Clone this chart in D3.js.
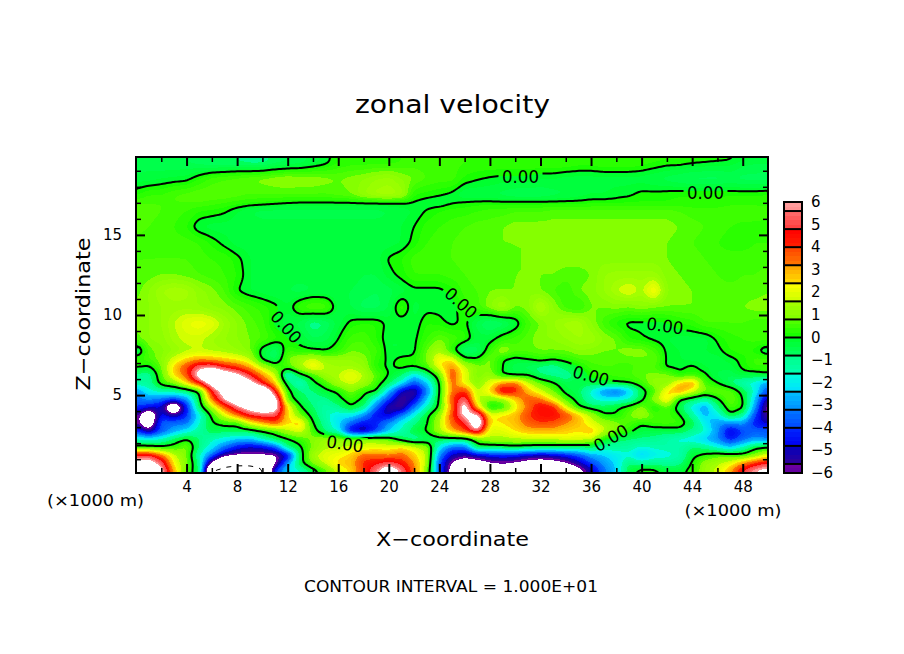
<!DOCTYPE html>
<html><head><meta charset="utf-8">
<script src="https://cdn.jsdelivr.net/npm/d3@7"></script>
<style>
html,body{margin:0;padding:0;background:#fff}
svg{display:block}
text{font-family:"DejaVu Sans",sans-serif;fill:#000}
</style></head><body><svg id="c" width="904" height="654"></svg>
<script>
const xValues = d3.range(0, 51);
const zValues = [0.25,0.75,1.25,1.75,2.25,2.75,3.25,3.75,4.25,4.75,5.25,5.75,6.25,6.75,7.25,7.75,8.5,9.5,10.5,11.5,12.5,13.5,14.5,15.5,16.5,17,17.5,18.5,19.5,19.86];
const velocityRows = [
[7,8,6.5,3,.5,-.6,-10.5,-11,-11,-11,-10.5,-4,-2,-1.8,-.5,.5,1.8,2.5,4,5.8,7.5,5.8,3.5,1,-3.6,-6.8,-8,-8,-7.2,-7.2,-7.5,-8,-8,-8,-7.5,-6.8,-5.2,-3.5,-2.4,-.3,.4,.3,-.2,-.2,.3,1.2,1.8,3,5,6.2,6.8],
[6.5,7,5.5,2.2,1,-1,-6.5,-9,-9.6,-9.6,-9,-6.3,-3,-.2,1,1.8,2.6,2.8,4.2,4.6,5.2,4.5,3.2,1.5,-3.8,-6.2,-7,-6.8,-6.2,-5.9,-6.2,-6.6,-6.8,-6.6,-6.2,-5.2,-4,-3,-2.2,-.8,-1.2,-1,-1.2,-1,.1,1.2,1.5,2,3.2,4.2,5],
[5,5,3.5,1.8,.8,-1.5,-3.5,-5.5,-6,-6,-6,-6.2,-5,-.4,1.5,2,2.2,2.6,3.6,3.5,3.2,3.6,2.6,1.6,-3.2,-5,-5.5,-5,-4.5,-4.4,-4.5,-5,-5.2,-5,-4.5,-3.8,-2.8,-2.4,-2,-1.8,-2.6,-2,-1.8,-1.5,-.2,.2,.6,.5,.3,1,2],
[.3,.2,.1,.3,1,-.8,-2,-3.4,-4.5,-5,-4.8,-3.8,-.8,-.1,.9,1.5,1.5,1.8,1.8,2,2,2.4,2,1.2,-2,-3.5,-3.5,-.3,-.6,-.4,-.2,-.4,-.5,-.6,-.7,-.8,-.6,-1.3,-1.2,-1.3,-1.7,-1.5,-1.4,-1.4,-.8,-1,-1.8,-2.5,-1.5,-.2,.1],
[-1.5,-1.7,-1.5,-.5,.1,-.8,-1.5,-1.9,-2.4,-2.5,-1.5,-.5,-.1,.4,1,1.4,1.4,.9,1.4,1.2,.7,-.5,-1.4,-.8,-.5,-.5,-.6,.5,1.5,1.4,1.6,1.6,1.7,1.8,2,2,1.8,.1,-.6,-.8,-.9,-1,-1.4,-1.8,-2,-2.6,-3.2,-4.4,-3.6,-3,-3.4],
[-4,-5.5,-3.8,-2.8,-2,-1.2,-.5,-.6,-.5,-.5,0,.4,1.5,2,.5,-1,-1.8,-5,-5.6,-4.2,-2.5,-1.5,-.3,.1,1.5,2.8,4,5.5,1.8,2,2.4,2.8,2.8,2.8,2.6,2.4,2.8,1.8,.8,.2,-.4,-.5,-.5,-.4,-1,-1.5,-3,-5,-4,-3.6,-3.6],
[-5.4,-7.5,-3.6,-3.4,-3.4,-1.6,-.1,.3,.3,2,3,3.8,2.5,2.8,0,-1.2,-2.2,-3.6,-4.5,-4.2,-3,-1.8,-.9,-.1,1.5,3.6,4.6,8,2.4,2.4,2.8,3.6,4,3.8,3.2,2.8,2,1.4,1,.6,.1,.5,.6,.5,-.4,-2,-3,-3.2,-3,-4.4,-5],
[-5.2,-8,-4.5,-5.4,-4.2,-2,.2,2,3.5,4.8,5.2,5.3,2.5,.8,-.4,-1.5,-2,-2,-3,-4.6,-5,-3.4,-1.8,-.2,1.2,3.8,6.6,6.4,2.2,2.6,2.8,4,4.5,4.6,4,2.8,1.5,.1,0,.8,1.4,.6,.5,.1,-1.2,-2.6,-2,-.1,-1,-4,-6],
[-4,-4.5,-5,-8.5,-4.4,-.5,1.5,3.6,5.5,7,8,7,2.5,.1,-.8,-1.4,-1,0,-.8,-3.5,-5.5,-5.8,-3.4,-1.5,.2,3.4,7,2.6,-.2,.1,2,3.4,4.8,4.4,2,.1,-.5,-.5,-.1,.4,1,0,.6,-.4,-2,-3,-1,.6,.2,-3,-6.5],
[-3.4,-3,-3.4,-3.8,-3,-.3,3.5,6.2,8,9,9,7,.5,-.6,-1,-1,-.2,.4,-.1,-2,-4,-5.8,-5,-2.4,.1,4,5.5,1.6,.9,1.2,2.6,3.8,3.4,2,.5,-.4,-1.5,-2,-2,-1.6,-.3,1.2,2.8,-.1,-.5,-1.2,-.1,1,.1,-2.5,-5.5],
[-3.2,-1.8,-1.3,-1.2,-.8,0,4.6,7,9,9.5,9,4.5,.3,-.8,-.9,-.2,.1,1,.2,.1,-2.5,-5,-5.7,-3.5,0,3.4,4.2,1.5,2.6,5.2,4.5,2.8,1.8,.8,-.3,-.6,-1.8,-3.2,-3.8,-2.6,-.4,.5,2.4,3.4,2,1,1,.8,-.3,-1.8,-4],
[-1,-1.2,.4,1,2.5,4.5,7,9,8.5,6.8,4.4,2.6,-.6,-1.8,-.2,.5,1.5,1.8,1.4,.5,-.5,-2,-3.8,-2.5,0,3.6,2,1,2,3.2,3.6,1.8,.7,.1,-.5,-.4,-.4,-.2,0,.1,.5,1.2,1,2.6,3.4,.5,0,-.8,-1.6,-2,-3],
[-1,-1.2,.6,2.5,3.8,7,9,7.5,6.5,4.8,3.2,1.8,-2,-.3,.4,1.4,1.6,2.2,1.6,.7,0,-.7,-2.2,-1,.6,4,2,.8,1.2,-.1,-.3,-.1,-.8,-1,-1.2,-.6,.2,.4,.5,.6,.8,.9,1,.1,.3,.1,-.5,-.6,-.2,-.3,-.1],
[.1,-.1,.8,2.6,4,5.6,5.8,4.6,4,3,1.6,.6,.5,1.5,2.5,1.6,1.4,1.4,1.2,.2,-.1,.2,.1,.5,2.2,3.4,1.8,1,.8,0,-.6,-.8,-1,-1.2,-.6,0,.5,.6,.6,.5,.7,.6,-.1,-.1,.1,-.2,-.3,-.3,.1,.4,.4],
[.4,.6,1,1.8,2.5,3,2.8,2.5,2.2,1.6,-.2,-.8,.8,1.4,1.8,1.2,1.2,1.2,1,.3,-.1,.1,.1,.9,2.4,2.2,.2,.1,1,0,-.2,0,.3,.1,.3,.6,.7,.7,.6,.7,.7,.9,-.1,-.2,-.3,-.3,-.3,-.1,.1,.5,.5],
[-.8,.7,.9,1.2,1.5,1.6,1.5,1.4,1.2,.9,-.3,-.9,.4,.2,.1,0,.3,.8,.7,.5,-.2,-.2,-.1,.8,1.5,.2,-1,-.8,.4,1.2,.7,.7,.8,.8,.8,1,.9,.8,.8,1,1,.6,-.1,-.2,-.2,-.2,-.1,.2,.3,.1,-.4],
[.7,1,1.1,1.5,1.7,1.7,1.4,1.2,1,.8,.6,.3,0,-.2,-.6,-.5,0,.5,.6,.2,-.2,-.2,-.1,.4,.8,.6,.3,-.3,-.2,.3,.5,.7,1,1,1.2,1.4,1.4,1,.8,.2,.05,-.1,-.2,-.3,-.3,-.3,.05,.3,.4,.5,.5],
[.8,1,1.2,1.6,2,2.2,2,1.4,1,.7,.5,-.1,-.3,-.5,-1,-.8,-.3,.1,.2,.2,-.1,-.2,-.2,.2,.1,-.1,.1,-.5,-1,-.8,-.3,.5,.8,1.2,1.5,1.6,1,.5,.1,-.1,-.1,-.1,-.05,.2,.3,.6,.6,.6,.6,.5,.5],
[.8,1,1.2,1.3,1.3,1.2,1,.9,.7,.5,.3,.1,-.2,.4,.7,.6,-.3,-.4,-.7,-.7,-.4,.4,-.3,-.1,-.1,-.2,.3,.5,1,1.5,.8,.9,1.8,1,.5,.3,.8,.8,.9,.8,1,.8,.8,.8,.8,.8,.8,.8,.8,.9,.9],
[.7,1,1.4,1.6,1.5,1.1,.9,.6,0,-.2,-.3,-.4,-.4,-.5,-.4,-.4,-.4,-.4,-.5,-.6,-.5,-.3,-.1,-.1,-.1,.1,.5,.6,.8,.8,.8,1,.8,.6,.4,.8,.9,1.2,1.6,1.9,1.5,2.4,1,.9,.8,.7,.7,.7,.7,.7,.8],
[.6,.7,.8,.8,.7,.6,.5,.4,.2,-.2,-.3,-.3,-.3,-.3,-.3,-.3,-.3,-.3,-.4,-.4,-.1,.1,.4,.4,.4,.5,.6,.7,.7,.7,.8,.8,.8,.8,.7,.7,.8,1.2,1.3,1.3,1.3,1.3,.9,.8,.7,.7,.6,.5,.6,.6,.7],
[.6,.6,.6,.6,.6,.5,.4,.35,.1,-.2,-.3,-.3,-.3,-.3,-.3,-.3,-.3,-.3,-.3,-.3,.05,.2,.5,.6,.6,.6,.7,.7,.7,.7,.8,.8,.8,.9,.9,.9,.9,.9,.9,.9,.9,.9,.8,.7,.7,.6,.5,.5,.5,.5,.5],
[.5,.5,.5,.5,.5,.4,.15,-.1,-.3,-.3,-.3,-.3,-.3,-.3,-.3,-.3,-.3,-.3,-.3,-.3,-.3,-.2,.1,.4,.5,.6,.7,.7,.8,.8,.8,.8,.8,.9,.9,.9,.9,.9,.9,.9,.9,.9,.8,.7,.6,.5,.4,.3,.3,.4,.4],
[.7,.6,.5,.4,.2,-.2,-.3,-.3,-.3,-.3,-.3,-.3,-.3,-.3,-.3,-.3,-.3,-.3,-.3,-.3,-.3,-.2,0,.3,.4,.5,.6,.7,.7,.8,.9,.9,.9,.9,.9,.9,.9,.9,.9,.9,.9,.9,.9,.8,.7,.6,.5,.4,.3,.3,.3],
[.8,.7,.6,.5,.4,.2,.15,.05,-.2,-.4,-.5,-.5,-.5,-.5,-.5,-.5,-.5,-.5,-.5,-.5,-.4,-.3,-.2,.03,.2,.3,.3,.4,.5,.5,.6,.6,.6,.7,.7,.7,.7,.7,.7,.7,.7,.7,.7,.6,.5,.5,.5,.6,.6,.6,.5],
[.6,.6,.6,.6,.6,.6,.5,.4,.3,.2,.15,.08,0,-.05,-.05,-.05,-.05,-.05,-.05,-.05,-.05,-.05,-.05,-.15,-.2,-.05,.05,.1,.1,.1,.1,.1,.1,.1,.1,.1,.15,.15,.15,.2,.2,.2,.2,.25,.25,.25,.25,.3,.3,.3,.3],
[.15,.4,.4,.6,.7,.8,.8,.8,.7,.6,.6,.6,.6,.6,.6,.6,.7,.8,1.2,1.5,1.6,1.4,.2,.1,.02,-.1,-.4,-.4,-.4,-.5,-.6,-.6,-.6,-.5,-.4,-.3,-.2,-.2,-.1,-.05,.1,.1,.15,.2,.2,.2,.2,.2,.2,.2,.25],
[-.3,-.3,-.2,-.15,-.1,.2,.5,.6,.7,.8,.9,1,1.1,1,1,.9,.8,.9,1,1.2,1.3,1,.8,.6,.5,.5,.15,.03,-.05,-.1,-.1,-.1,-.2,-.2,-.3,-.3,-.3,-.3,-.3,-.3,-.3,-.4,-.5,-.6,-.7,-.7,-.7,-.6,-.7,-.7,-.7],
[-.6,-.5,-.6,-.6,-.6,-.7,-.8,-.8,-.8,-.9,-.9,-.7,-.6,-.5,-.3,-.1,.2,.3,.3,.3,.3,.4,.5,.5,.5,.5,.4,.4,.4,.4,.4,.4,.4,.4,.4,.3,.3,.4,.4,.4,.3,.2,.1,.1,0,-.05,-.1,-.1,-.3,-.4,-.4],
[-.6,-.5,-.6,-.6,-.6,-.7,-.8,-.8,-.8,-.9,-.9,-.7,-.6,-.5,-.3,-.1,.2,.3,.3,.3,.3,.4,.5,.5,.5,.5,.4,.4,.4,.4,.4,.4,.4,.4,.4,.3,.3,.4,.4,.4,.3,.3,.3,.3,.3,.25,.2,.1,0,-.1,-.2]
];
const xMajorTicks = [4,8,12,16,20,24,28,32,36,40,44,48];
const xMinorTicks = d3.range(2,50,4);
const zMajorTicks = [5,10,15];
const zMinorTicks = d3.range(1,20).filter(d=>d%5);
const legendLabels = [6,5,4,3,2,1,0,-1,-2,-3,-4,-5,-6];
const legendCellEdges = [-6,-5.6,-4.8,-4,-3.2,-2.4,-1.6,-.8,0,.8,1.6,2.4,3.2,4,4.8,5.6,6];
const legendCellColors = [
["#6000a0","#7000a0"],["#300098","#0000c0"],["#0000f0","#0028ff"],["#0048ff","#0078ff"],
["#0090ff","#00c0ff"],["#00e0ff","#00ffdc"],["#00ffb0","#00ff88"],["#00ff60","#00ff28"],
["#10ff00","#58ff00"],["#80ff00","#a8ff00"],["#ccff00","#ffff00"],["#ffdd00","#ffa000"],
["#ff7700","#ff4400"],["#ff2000","#ff0000"],["#ff3c3c","#ff6e6e"],["#ff8f8f","#ffa0a0"]];
const contourLabels = [
 {cx:520.5,cy:177,rot:0},{cx:705.5,cy:193,rot:0},{cx:461,cy:303,rot:42},{cx:286,cy:327,rot:48},
 {cx:345,cy:444,rot:8},{cx:591,cy:376,rot:15},{cx:611,cy:438,rot:-30},{cx:665,cy:326,rot:8}];

const L=136,R=768,T=157,B=473;
const svg=d3.select("#c");
const x=d3.scaleLinear().domain([0,50]).range([L,R]);
const z=d3.scaleLinear().domain([0.14,19.86]).range([B,T]);

function bandColor(v){
  let i=d3.bisectRight(legendCellEdges,v)-1; i=Math.max(0,Math.min(legendCellColors.length-1,i));
  const t=(v-legendCellEdges[i])/(legendCellEdges[i+1]-legendCellEdges[i]);
  return d3.interpolateRgb(legendCellColors[i][0],legendCellColors[i][1])(t);
}
const nx=316,ny=158,field=new Float64Array(nx*ny);
function sample(xv,zv){
  const cx=Math.max(0,Math.min(49.9999,xv)); const i=Math.floor(cx), fx=cx-i;
  const cz=Math.max(zValues[0],Math.min(zValues[zValues.length-1]-1e-6,zv));
  const j=d3.bisectRight(zValues,cz)-1, fz=(cz-zValues[j])/(zValues[j+1]-zValues[j]);
  const a=velocityRows[j],b=velocityRows[j+1];
  return (a[i]*(1-fx)+a[i+1]*fx)*(1-fz)+(b[i]*(1-fx)+b[i+1]*fx)*fz;
}
for(let r=0;r<ny;r++)for(let c=0;c<nx;c++){
  field[r*nx+c]=sample(x.invert(L+(c+.5)/nx*(R-L)),z.invert(T+(r+.5)/ny*(B-T)));
}
function blur(a,rad){
  const o=new Float64Array(a.length);
  for(let r=0;r<ny;r++)for(let c=0;c<nx;c++){let s=0,n=0;for(let k=-rad;k<=rad;k++){const q=c+k;if(q>=0&&q<nx){s+=a[r*nx+q];n++}}o[r*nx+c]=s/n}
  const p=new Float64Array(a.length);
  for(let c=0;c<nx;c++)for(let r=0;r<ny;r++){let s=0,n=0;for(let k=-rad;k<=rad;k++){const q=r+k;if(q>=0&&q<ny){s+=o[q*nx+c];n++}}p[r*nx+c]=s/n}
  return p;
}
const smooth=blur(blur(field,1),1);
const px=d3.scaleLinear().domain([0,nx]).range([L,R]), py=d3.scaleLinear().domain([0,ny]).range([T,B]);
const path=d3.geoPath(d3.geoTransform({point(a,b){this.stream.point(px(a),py(b))}}));
const thresholds=d3.range(0,61).map(i=>+(-6+i*.2).toFixed(1));
const contours=d3.contours().size([nx,ny]);

const defs=svg.append("defs");
defs.append("clipPath").attr("id","pc").append("rect").attr("x",L).attr("y",T).attr("width",R-L).attr("height",B-T);
const mask=defs.append("mask").attr("id","lm").attr("maskUnits","userSpaceOnUse").attr("x",0).attr("y",0).attr("width",904).attr("height",654);
mask.append("rect").attr("width",904).attr("height",654).attr("fill","#fff");
mask.selectAll("g").data(contourLabels).join("rect").attr("x",-22).attr("y",-9).attr("width",44).attr("height",18).attr("fill","#000")
  .attr("transform",d=>`translate(${d.cx},${d.cy}) rotate(${d.rot})`);

const plot=svg.append("g").attr("clip-path","url(#pc)");
plot.append("rect").attr("x",L).attr("y",T).attr("width",R-L).attr("height",B-T).attr("fill","#fff");
thresholds.forEach(t=>{
  const c=contours.contour(smooth,t);
  plot.append("path").attr("d",path(c)).attr("fill",t>=6?"#fff":bandColor(t+.1)).attr("shape-rendering","crispEdges");
});
plot.append("g").attr("mask","url(#lm)").append("path").attr("d",path(contours.contour(smooth,0)))
  .attr("fill","none").attr("stroke","#000").attr("stroke-width",2).attr("stroke-linejoin","round");
plot.append("path").attr("d",path(contours.contour(smooth,-10)))
  .attr("fill","none").attr("stroke","#000").attr("stroke-width",1).attr("stroke-dasharray","5 6");

svg.append("g").selectAll("text").data(contourLabels).join("text").text("0.00")
  .attr("text-anchor","middle").attr("dominant-baseline","central").attr("font-size",17)
  .attr("textLength",37).attr("lengthAdjust","spacingAndGlyphs")
  .attr("transform",d=>`translate(${d.cx},${d.cy}) rotate(${d.rot})`);

function axis(gen,vals,size,pad,withLabels,tx,ty,sw){
  const g=svg.append("g").attr("transform",`translate(${tx},${ty})`)
    .call(gen.tickValues(vals).tickSize(-size).tickPadding(pad).tickFormat(withLabels?d3.format("d"):""));
  g.select(".domain").remove();
  g.selectAll("line").attr("stroke","#000").attr("stroke-width",sw);
  g.selectAll("text").attr("font-size",15).attr("font-family",'"DejaVu Sans",sans-serif').attr("fill","#000");
  return g;
}
axis(d3.axisBottom(x),xMajorTicks,9,8,true,0,B,2);
axis(d3.axisBottom(x),xMinorTicks,5,0,false,0,B,1.5);
axis(d3.axisTop(x),xMajorTicks,9,0,false,0,T,2);
axis(d3.axisTop(x),xMinorTicks,5,0,false,0,T,1.5);
axis(d3.axisLeft(z),zMajorTicks,9,14,true,L,0,2);
axis(d3.axisLeft(z),zMinorTicks,5,0,false,L,0,1.5);
axis(d3.axisRight(z),zMajorTicks,9,0,false,R,0,2);
axis(d3.axisRight(z),zMinorTicks,5,0,false,R,0,1.5);
svg.append("rect").attr("x",L).attr("y",T).attr("width",R-L).attr("height",B-T).attr("fill","none").attr("stroke","#000").attr("stroke-width",2);

const ly=d3.scaleLinear().domain([6,-6]).range([202,473]);
const lx0=784,lx1=802;
const lg=svg.append("g");
thresholds.slice(0,60).forEach(t=>{
  lg.append("rect").attr("x",lx0).attr("width",lx1-lx0).attr("y",ly(t+.2)).attr("height",ly(t)-ly(t+.2)).attr("fill",bandColor(t+.1)).attr("shape-rendering","crispEdges");
});
lg.selectAll("line").data(legendCellEdges).join("line").attr("x1",lx0).attr("x2",lx1).attr("y1",d=>ly(d)).attr("y2",d=>ly(d)).attr("stroke","#000").attr("stroke-width",2);
lg.append("rect").attr("x",lx0).attr("y",202).attr("width",lx1-lx0).attr("height",271).attr("fill","none").attr("stroke","#000").attr("stroke-width",2);
lg.selectAll("text").data(legendLabels).join("text").attr("x",811).attr("y",d=>ly(d)).attr("dominant-baseline","central").attr("font-size",15)
  .text(d=>d<0?"\u2212"+(-d):d);

function t(s,xp,yp,size,len,rot){
  const e=svg.append("text").text(s).attr("font-size",size).attr("textLength",len).attr("lengthAdjust","spacingAndGlyphs").attr("text-anchor","middle");
  if(rot) e.attr("transform",`translate(${xp},${yp}) rotate(${rot})`); else e.attr("x",xp).attr("y",yp);
}
t("zonal velocity",452.5,113,25,195);
t("X\u2212coordinate",452.5,546,20,153);
t("Z\u2212coordinate",90,314,20,153,-90);
t("(\u00d71000 m)",95.5,506,15,97);
t("(\u00d71000 m)",733,516,15,97);
t("CONTOUR INTERVAL = 1.000E+01",451,592,15,294);
if(velocityRows.some(r=>r.length!==51)||velocityRows.length!==zValues.length) throw new Error("row length "+velocityRows.map(r=>r.length));
</script></body></html>
